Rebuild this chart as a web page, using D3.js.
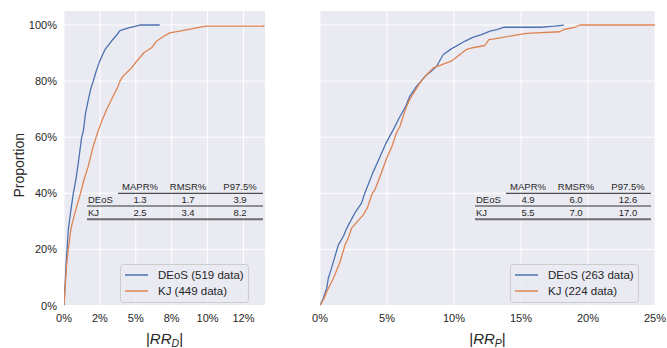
<!DOCTYPE html>
<html>
<head>
<meta charset="utf-8">
<script src="https://cdn.jsdelivr.net/npm/d3@7/dist/d3.min.js"></script>
<style>
  body { margin: 0; background: #fff; }
  text { font-family: "Liberation Sans", Arial, sans-serif; fill: #262626; }
</style>
</head>
<body>
<svg id="chart" width="667" height="348"></svg>
<script>
// ECDF curves: [|RR| in %, proportion in %]
const deosD = [[0,0],[0.15,15],[0.3,27],[0.48,34],[0.65,40],[0.83,45],[1.0,51],[1.23,60],[1.34,62],[1.5,68.5],
  [1.7,73.5],[1.88,77.6],[2.04,80],[2.15,82],[2.27,84],[2.5,87.3],[2.85,91.2],[3.3,94.2],[3.6,96],[3.9,98],
  [4.5,99],[5.3,100],[6.67,100]];
const kjD = [[0,0],[0.1,8],[0.19,15],[0.3,20],[0.49,27.6],[0.76,33],[1.12,39.5],[1.4,45],[1.69,49.6],[2.03,56.7],
  [2.36,62],[2.65,66],[2.96,69.8],[3.42,74.6],[3.75,78],[3.9,80],[4.1,81.7],[4.7,84.7],[5.05,87],[5.6,90.3],
  [6.1,91.9],[6.44,94.2],[6.9,95.8],[7.36,97.2],[8.06,97.8],[8.87,98.6],[9.4,99.2],[9.9,99.6],[13.9,99.6],[13.95,100]];
const deosP = [[0,0],[0.25,2.6],[0.5,6.1],[0.62,9.7],[0.82,12.7],[1.37,21.6],[1.74,24.6],[2.0,27.6],[2.6,33],[3.1,36.5],
  [3.3,39.5],[3.93,47.2],[4.48,53],[4.93,57.9],[5.47,62.7],[5.97,67.4],[6.4,71],[6.7,74.6],[7.2,78.1],[7.84,81.7],
  [8.3,83.5],[8.7,85.3],[9.2,89.5],[9.8,91.5],[10.8,94.2],[11.4,95.6],[12.0,96.5],[12.7,97.8],[13.2,98.4],[13.7,99.2],
  [16.5,99.2],[17.5,99.6],[18.2,100]];
const kjP = [[0,0],[0.3,2.5],[0.5,4.9],[1.0,9.7],[1.5,15.6],[1.87,21.6],[2.1,24],[2.36,27.6],[2.8,30],[3.23,32.3],
  [3.55,35],[3.86,39.5],[4.1,41.3],[4.6,47.5],[4.98,52.6],[5.35,56.4],[5.7,61.5],[5.97,63.9],[6.2,67.4],[6.47,71],
  [6.7,73.5],[6.84,74.6],[7.46,79.4],[7.96,82.3],[8.46,84.7],[9.1,85.9],[9.8,87.1],[10.2,88.6],[10.9,91.2],[11.4,91.9],
  [12.3,92.7],[12.6,94.8],[12.9,95],[14.4,96.25],[15.4,97],[17.9,97.6],[18.2,98.4],[19.0,99.2],[19.4,100],[25,100]];

const yTicks = [0, 20, 40, 60, 80, 100];
const ticksD = [0, 2.5, 5, 7.5, 10, 12.5];
const tickLabelsD = ["0%", "2%", "5%", "8%", "10%", "12%"];
const ticksP = [0, 5, 10, 15, 20, 25];
const tickLabelsP = ["0%", "5%", "10%", "15%", "20%", "25%"];

const legendD = ["DEoS (519 data)", "KJ (449 data)"];
const legendP = ["DEoS (263 data)", "KJ (224 data)"];

const statCols = ["MAPR%", "RMSR%", "P97.5%"];
const statRows = ["DEoS", "KJ"];
const statsD = [["1.3", "1.7", "3.9"], ["2.5", "3.4", "8.2"]];
const statsP = [["4.9", "6.0", "12.6"], ["5.5", "7.0", "17.0"]];

const colors = ["#4c72b0", "#dd8452"];

const svg = d3.select("#chart");
const plotTop = 11, plotBottom = 305.5;
const y = d3.scaleLinear().domain([0, 105]).range([plotBottom, plotTop]);

const panels = [
  { id: "d", x0: 64, x1: 265, xmax: 14, ticks: ticksD, labels: tickLabelsD, series: [deosD, kjD],
    legend: legendD, stats: statsD, sub: "D", tableLeft: 87, tableRight: 263 },
  { id: "p", x0: 320, x1: 655, xmax: 25, ticks: ticksP, labels: tickLabelsP, series: [deosP, kjP],
    legend: legendP, stats: statsP, sub: "P", tableLeft: 475, tableRight: 651 }
];

panels.forEach((p, pi) => {
  const x = d3.scaleLinear().domain([0, p.xmax]).range([p.x0, p.x1]);
  const g = svg.append("g");

  g.append("rect")
    .attr("x", p.x0).attr("y", plotTop)
    .attr("width", p.x1 - p.x0).attr("height", plotBottom - plotTop)
    .attr("fill", "#eaeaf2");

  // grid
  g.selectAll(".gx").data(p.ticks).join("line")
    .attr("x1", d => x(d)).attr("x2", d => x(d))
    .attr("y1", plotTop).attr("y2", plotBottom)
    .attr("stroke", "#fff").attr("stroke-width", 1);
  g.selectAll(".gy").data(yTicks).join("line")
    .attr("x1", p.x0).attr("x2", p.x1)
    .attr("y1", d => y(d)).attr("y2", d => y(d))
    .attr("stroke", "#fff").attr("stroke-width", 1);

  // x tick labels
  g.selectAll(".xt").data(p.ticks).join("text")
    .attr("x", d => x(d)).attr("y", 318)
    .attr("text-anchor", "middle").attr("dominant-baseline", "central")
    .style("font-size", "11px")
    .text((d, i) => p.labels[i]);

  if (pi === 0) {
    g.selectAll(".yt").data(yTicks).join("text")
      .attr("x", 57).attr("y", d => y(d))
      .attr("text-anchor", "end").attr("dominant-baseline", "central")
      .style("font-size", "11px")
      .text(d => d + "%");
    g.append("text")
      .attr("transform", "translate(19," + y(50) + ") rotate(-90)")
      .attr("text-anchor", "middle").attr("dominant-baseline", "central")
      .style("font-size", "14px")
      .text("Proportion");
  }

  // x label |RR_x|
  const xl = g.append("text")
    .attr("x", (p.x0 + p.x1) / 2).attr("y", 344)
    .attr("text-anchor", "middle")
    .style("font-size", "15px");
  xl.append("tspan").text("|");
  xl.append("tspan").style("font-style", "italic").text("RR");
  xl.append("tspan").style("font-style", "italic").style("font-size", "10.5px")
    .attr("dy", 3).text(p.sub);
  xl.append("tspan").attr("dy", -3).text("|");

  // curves
  g.append("clipPath").attr("id", "clip-" + p.id)
    .append("rect").attr("x", p.x0).attr("y", plotTop)
    .attr("width", p.x1 - p.x0).attr("height", plotBottom - plotTop);
  const line = d3.line().x(d => x(d[0])).y(d => y(d[1]));
  g.append("g").attr("clip-path", "url(#clip-" + p.id + ")")
    .selectAll("path").data(p.series).join("path")
    .attr("d", line)
    .attr("fill", "none")
    .attr("stroke", (d, i) => colors[i])
    .attr("stroke-width", 1.3)
    .attr("stroke-linejoin", "round");

  // stats table
  const t = g.append("g");
  const colX = [53, 101, 153].map(c => p.tableLeft + c);
  t.selectAll(".hd").data(statCols).join("text")
    .attr("x", (d, i) => colX[i]).attr("y", 186.5)
    .attr("text-anchor", "middle").attr("dominant-baseline", "central")
    .style("font-size", "9.5px").text(d => d);
  t.selectAll(".rl").data(statRows).join("text")
    .attr("x", p.tableLeft + 1).attr("y", (d, i) => 199.5 + i * 12.5)
    .attr("dominant-baseline", "central")
    .style("font-size", "9.5px").text(d => d);
  p.stats.forEach((row, ri) => {
    t.selectAll(".v" + ri).data(row).join("text")
      .attr("x", (d, i) => colX[i]).attr("y", 199.5 + ri * 12.5)
      .attr("text-anchor", "middle").attr("dominant-baseline", "central")
      .style("font-size", "9.5px").text(d => d);
  });
  t.append("line").attr("x1", p.tableLeft + 31).attr("x2", p.tableRight)
    .attr("y1", 193.3).attr("y2", 193.3).attr("stroke", "#222").attr("stroke-width", 1);
  t.append("line").attr("x1", p.tableLeft).attr("x2", p.tableRight)
    .attr("y1", 206).attr("y2", 206).attr("stroke", "#333").attr("stroke-width", 1);
  t.append("line").attr("x1", p.tableLeft).attr("x2", p.tableRight)
    .attr("y1", 219.3).attr("y2", 219.3).attr("stroke", "#6e6e6e").attr("stroke-width", 2);

  // legend
  const lx = p.x1 - 145, ly = 264;
  const lg = g.append("g").attr("transform", "translate(" + lx + "," + ly + ")");
  lg.append("rect").attr("x", 0.5).attr("y", 0.5).attr("width", 128).attr("height", 38)
    .attr("rx", 3).attr("fill", "#eaeaf2").attr("fill-opacity", 0.8)
    .attr("stroke", "#cccccc").attr("stroke-width", 1);
  p.legend.forEach((name, i) => {
    lg.append("line").attr("x1", 5).attr("x2", 28)
      .attr("y1", 11 + i * 16).attr("y2", 11 + i * 16)
      .attr("stroke", colors[i]).attr("stroke-width", 1.5);
    lg.append("text").attr("x", 38).attr("y", 11 + i * 16)
      .attr("dominant-baseline", "central")
      .style("font-size", "11.5px").text(name);
  });
});
</script>
</body>
</html>
